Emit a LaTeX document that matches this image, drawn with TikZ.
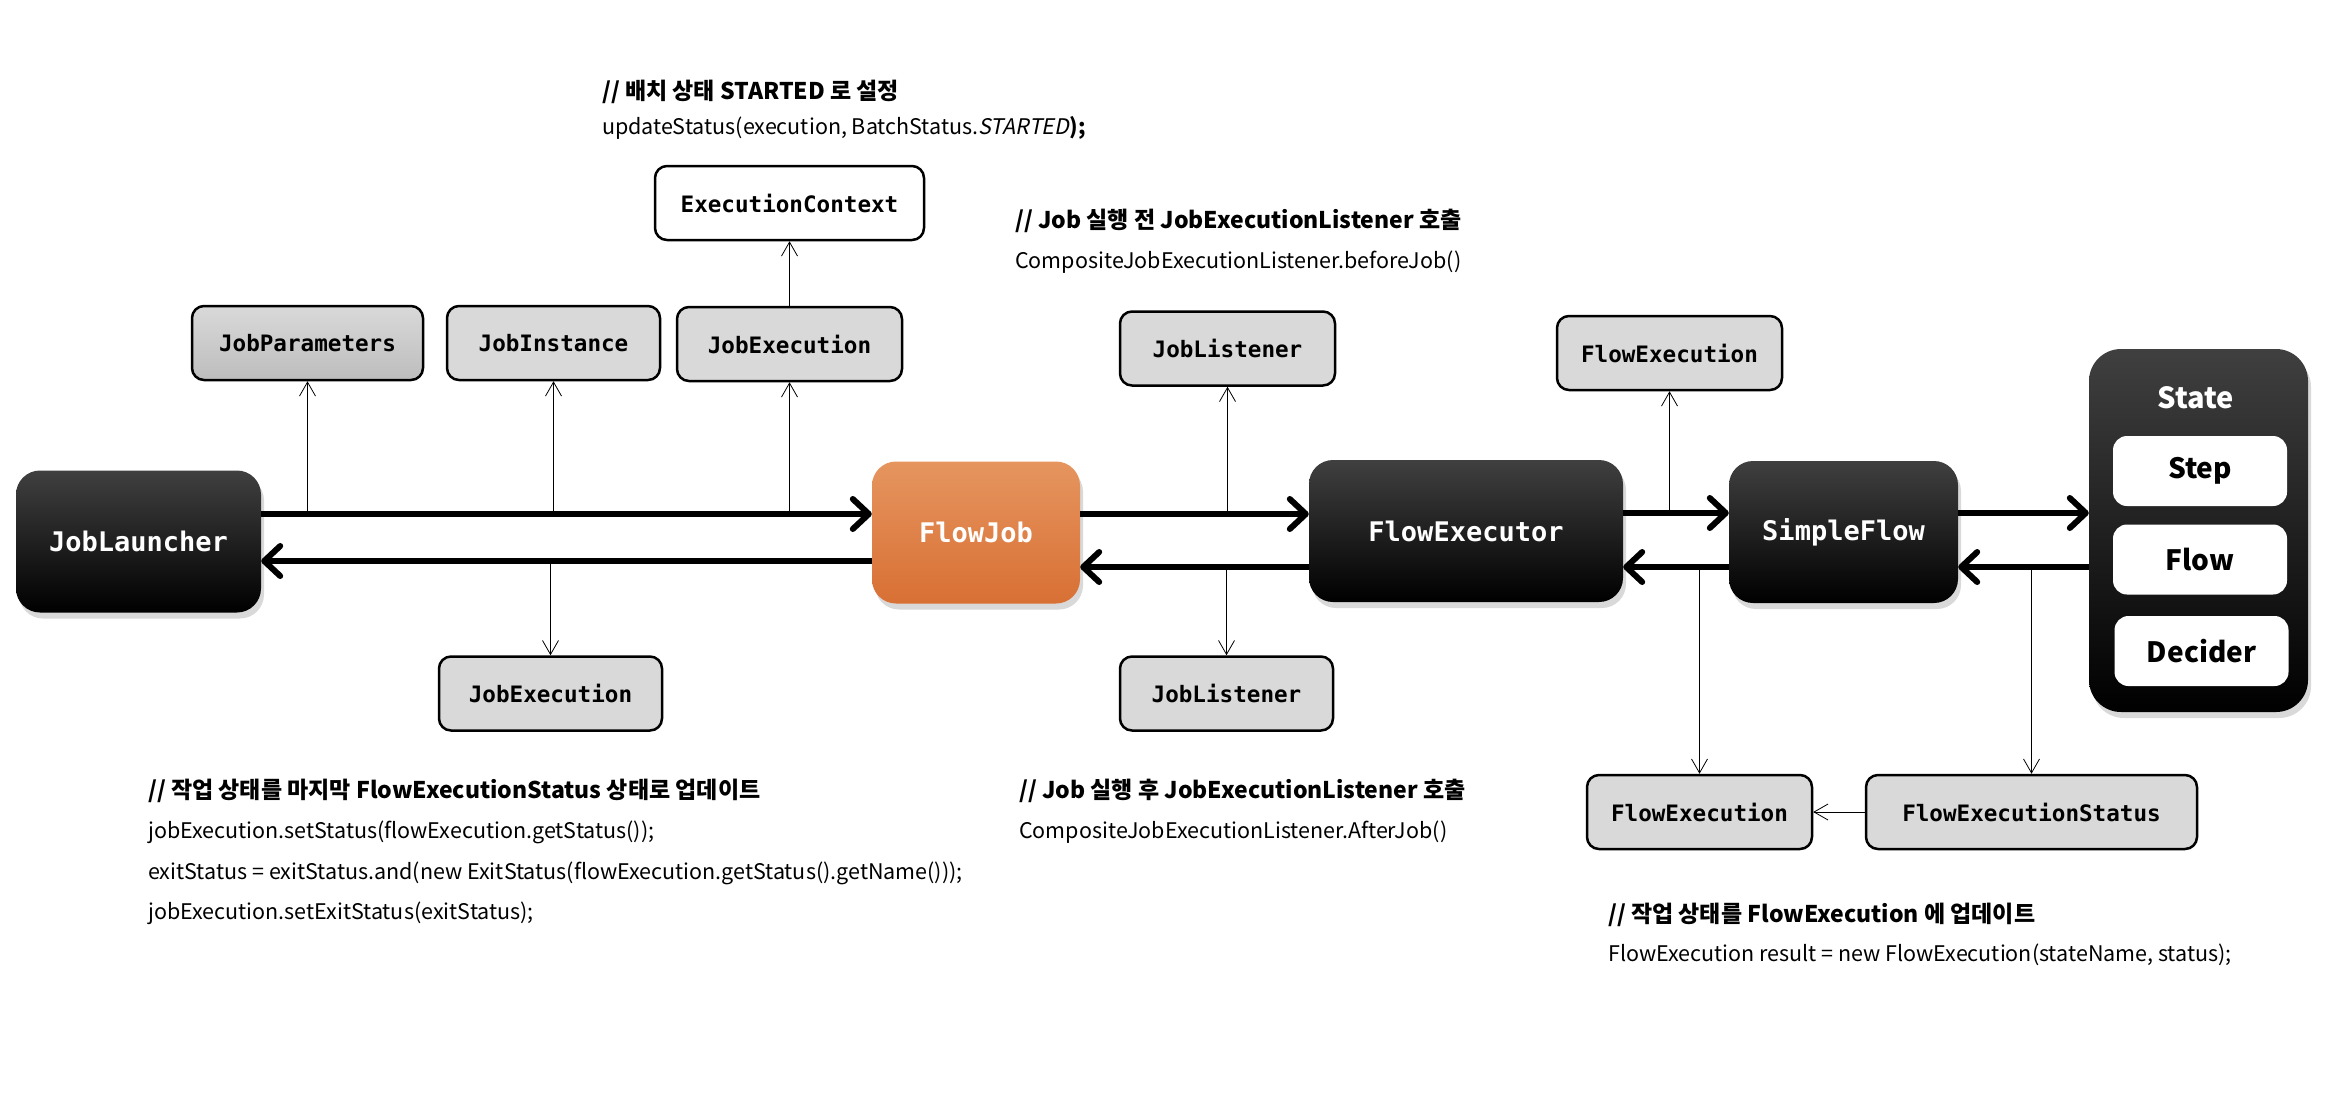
\documentclass[tikz,border=0pt]{standalone}
\usepackage{fontspec}
\setmonofont{DejaVu Sans Mono}
\newfontfamily\kr{Noto Sans CJK KR}
\newfontfamily\krit{Noto Sans CJK KR}[FakeSlant=0.2]
\usetikzlibrary{positioning,arrows.meta,shadows}
\definecolor{boxgray}{HTML}{D9D9D9}
\definecolor{boxgraydk}{HTML}{BDBDBD}
\definecolor{orangetop}{HTML}{E6955F}
\definecolor{orangemid}{HTML}{E48040}
\definecolor{orangebot}{HTML}{D87034}
\tikzset{
  flow/.style ={line width=6pt, -{Straight Barb[length=16pt,width=30pt,round]}},
  ref/.style  ={line width=0.8pt, -{Straight Barb[length=14pt,width=16pt]}},
  obj/.style  ={draw, line width=2.5pt, rounded corners=12pt, fill=boxgray, minimum height=74pt,
                inner sep=0pt, font=\ttfamily\bfseries\fontsize{22.6}{26}\selectfont},
  dark/.style ={rounded corners=24pt, top color=black!75, middle color=black, bottom color=black,
                text=white, minimum height=142pt, inner sep=0pt,
                font=\ttfamily\bfseries\fontsize{27}{30}\selectfont,
                drop shadow={shadow xshift=3pt, shadow yshift=-6pt, opacity=0.3}},
  slot/.style ={fill=white, rounded corners=14pt, minimum width=174pt, minimum height=70pt,
                inner sep=0pt, font=\kr\bfseries\fontsize{28}{30}\selectfont},
  note/.style ={anchor=west, inner sep=0pt, font=\kr\bfseries\fontsize{23}{26}\selectfont},
  code/.style ={anchor=west, inner sep=0pt, font=\kr\fontsize{21.5}{26}\selectfont},
}
\begin{document}
\begin{tikzpicture}[x=1pt, y=-1pt, line join=round]
  \useasboundingbox (0,0) rectangle (2348,1096);

  %--- rows of the main call chain ---
  \coordinate (hi)  at (0,514);
  \coordinate (lo)  at (0,561);
  \coordinate (lo2) at (0,567);

  %--- main chain ---
  \node[dark, minimum width=245pt] (jl) at (138.5,541.5) {JobLauncher};
  \node[dark, minimum width=208pt, top color=orangetop, middle color=orangemid, bottom color=orangebot]
    (fj) at (976,532.5) {FlowJob};
  \node[dark, minimum width=314pt] (fe) at (1466,531) {FlowExecutor};
  \node[dark, minimum width=229pt] (sf) at (1843.5,532) {SimpleFlow};

  %--- State with its kinds ---
  \node[dark, rounded corners=32pt, minimum width=219pt, minimum height=363pt] (st) at (2198.5,530.5) {};
  \node[text=white, inner sep=0pt, font=\kr\bfseries\fontsize{29}{30}\selectfont] (stl) at (2196,398) {State};
  \node[slot] (step) at (2200,471) {Step};
  \node[slot] (flw)  at (2200,559.5) {Flow};
  \node[slot] (dec)  at (2201.5,651) {Decider};

  %--- objects above the chain ---
  \node[obj, minimum width=231pt, top color=boxgray, bottom color=boxgraydk] (jp) at (307.5,343) {JobParameters};
  \node[obj, minimum width=213pt] (ji)  at (553.5,343) {JobInstance};
  \node[obj, minimum width=225pt] (je)  at (789.5,344) {JobExecution};
  \node[obj, minimum width=269pt, fill=white] (ec) at (789.5,203) {ExecutionContext};
  \node[obj, minimum width=215pt] (jlt) at (1227.5,348.5) {JobListener};
  \node[obj, minimum width=225pt] (fxt) at (1669.5,353) {FlowExecution};

  %--- objects below the chain ---
  \node[obj, minimum width=223pt] (jeb) at (550.5,693.5) {JobExecution};
  \node[obj, minimum width=213pt] (jlb) at (1226.5,693.5) {JobListener};
  \node[obj, minimum width=225pt] (fxb) at (1699.5,812) {FlowExecution};
  \node[obj, minimum width=331pt] (fxs) at (2031.5,812) {FlowExecutionStatus};

  %--- calls and returns ---
  \draw[flow] (jl.east |- hi)  -- (fj.west |- hi);
  \draw[flow] (fj.west |- lo)  -- (jl.east |- lo);
  \draw[flow] (fj.east |- hi)  -- (fe.west |- hi);
  \draw[flow] (fe.west |- lo2) -- (fj.east |- lo2);
  \draw[flow] ([yshift=1pt]fe.east |- hi) -- ([yshift=1pt]sf.west |- hi);
  \draw[flow] (sf.west |- lo2) -- (fe.east |- lo2);
  \draw[flow] ([yshift=1pt]sf.east |- hi) -- ([yshift=1pt]st.west |- hi);
  \draw[flow] (st.west |- lo2) -- (sf.east |- lo2);

  %--- uses ---
  \draw[ref] (jp.south |- hi) -- (jp.south);
  \draw[ref] (ji.south |- hi) -- (ji.south);
  \draw[ref] (je.south |- hi) -- (je.south);
  \draw[ref] (je.north) -- (ec.south);
  \draw[ref] (jeb.north |- lo) -- (jeb.north);
  \draw[ref] (jlt.south |- hi) -- (jlt.south);
  \draw[ref] (jlb.north |- lo2) -- (jlb.north);
  \draw[ref] (fxt.south |- hi) -- (fxt.south);
  \draw[ref] (fxb.north |- lo2) -- (fxb.north);
  \draw[ref] (fxs.north |- lo2) -- (fxs.north);
  \draw[ref] (fxs.west) -- (fxb.east);

  %--- notes ---
  \node[note] (n1) at (602,92)  {// 배치 상태 STARTED 로 설정};
  \node[code] (c1) at (602,128) {updateStatus(execution, BatchStatus.{\krit STARTED}\textbf{);}};
  \node[note] (n2) at (1015,221) {// Job 실행 전 JobExecutionListener 호출};
  \node[code] (c2) at (1015,262) {CompositeJobExecutionListener.beforeJob()};
  \node[note] (n3) at (148,791) {// 작업 상태를 마지막 FlowExecutionStatus 상태로 업데이트};
  \node[code] (c3) at (148,832) {jobExecution.setStatus(flowExecution.getStatus());};
  \node[code] (c4) at (148,873) {exitStatus = exitStatus.and(new ExitStatus(flowExecution.getStatus().getName()));};
  \node[code] (c5) at (148,913) {jobExecution.setExitStatus(exitStatus);};
  \node[note] (n4) at (1019,791) {// Job 실행 후 JobExecutionListener 호출};
  \node[code] (c6) at (1019,832) {CompositeJobExecutionListener.AfterJob()};
  \node[note] (n5) at (1608,915) {// 작업 상태를 FlowExecution 에 업데이트};
  \node[code] (c7) at (1608,955) {FlowExecution result = new FlowExecution(stateName, status);};
\end{tikzpicture}
\end{document}
